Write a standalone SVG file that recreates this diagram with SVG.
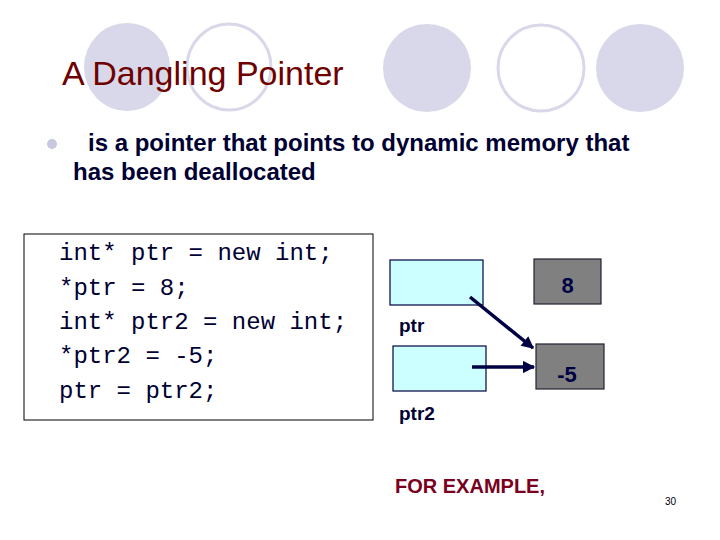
<svg xmlns="http://www.w3.org/2000/svg" width="720" height="540" viewBox="0 0 720 540">
<defs>
<style>
.dot{fill:#D8D8EA}
.ring{fill:none;stroke:#D8D8EA;stroke-width:3}
.title{font-family:"Liberation Sans",Arial,sans-serif;font-size:34px;fill:#6E0000}
.body{font-family:"Liberation Sans",Arial,sans-serif;font-weight:bold;font-size:24px;fill:#000033}
.code{font-family:"Liberation Mono","Courier New",monospace;font-size:24px;fill:#000033}
.lbl{font-family:"Liberation Sans",Arial,sans-serif;font-weight:bold;font-size:19px;fill:#000033}
.val{font-family:"Liberation Sans",Arial,sans-serif;font-weight:bold;font-size:22px;fill:#000044}
.ptrbox{fill:#CCFFFF;stroke:#000044;stroke-width:1.2}
.valbox{fill:#808080;stroke:#222233;stroke-width:1.2}
.arrow{stroke:#000044;stroke-width:3.5;fill:none}
</style>
<marker id="ah" viewBox="0 0 10 10" refX="9" refY="5" markerWidth="4" markerHeight="3.5" orient="auto" markerUnits="strokeWidth">
<path d="M0,0 L10,5 L0,10 z" fill="#000044"/>
</marker>
</defs>
<rect width="720" height="540" fill="#FFFFFF"/>
<g id="decor">
<ellipse class="dot" cx="127" cy="67" rx="43" ry="44"/>
<ellipse class="ring" cx="229" cy="67" rx="42" ry="43"/>
<ellipse class="dot" cx="427" cy="68" rx="44" ry="44"/>
<ellipse class="ring" cx="541" cy="68" rx="43" ry="43"/>
<ellipse class="dot" cx="640" cy="68" rx="44" ry="44"/>
</g>
<text class="title" x="62" y="85">A Dangling Pointer</text>
<g id="bullet">
<circle cx="52" cy="144" r="5" fill="#C8C8E0"/>
<text class="body" x="88" y="151">is a pointer that points to dynamic memory that</text>
<text class="body" x="73" y="180">has been deallocated</text>
</g>
<g id="code">
<rect x="24" y="234" width="349" height="186" fill="#FFFFFF" stroke="#000000" stroke-width="1"/>
<text class="code" x="59" y="260">int* ptr = new int;</text>
<text class="code" x="59" y="295">*ptr = 8;</text>
<text class="code" x="59" y="329">int* ptr2 = new int;</text>
<text class="code" x="59" y="363">*ptr2 = -5;</text>
<text class="code" x="59" y="398">ptr = ptr2;</text>
</g>
<g id="ptr">
<rect class="ptrbox" x="390" y="260" width="93" height="45"/>
<text class="lbl" x="399" y="332">ptr</text>
</g>
<g id="ptr2">
<rect class="ptrbox" x="393" y="346" width="93" height="45"/>
<text class="lbl" x="399" y="420">ptr2</text>
</g>
<g id="val8">
<rect class="valbox" x="534" y="259" width="67" height="45"/>
<text class="val" x="567.5" y="293" text-anchor="middle">8</text>
</g>
<g id="valm5">
<rect class="valbox" x="536" y="344" width="68" height="45"/>
<text class="val" x="567" y="382" text-anchor="middle">-5</text>
</g>
<g id="connectors">
<line class="arrow" x1="470" y1="297" x2="533" y2="348" marker-end="url(#ah)"/>
<line class="arrow" x1="472" y1="367" x2="534" y2="367" marker-end="url(#ah)"/>
</g>
<text x="395" y="493" font-family="Liberation Sans,Arial,sans-serif" font-weight="bold" font-size="20" fill="#7A0020">FOR EXAMPLE,</text>
<text x="665" y="505" font-family="Liberation Sans,Arial,sans-serif" font-size="10" fill="#000000">30</text>
</svg>
